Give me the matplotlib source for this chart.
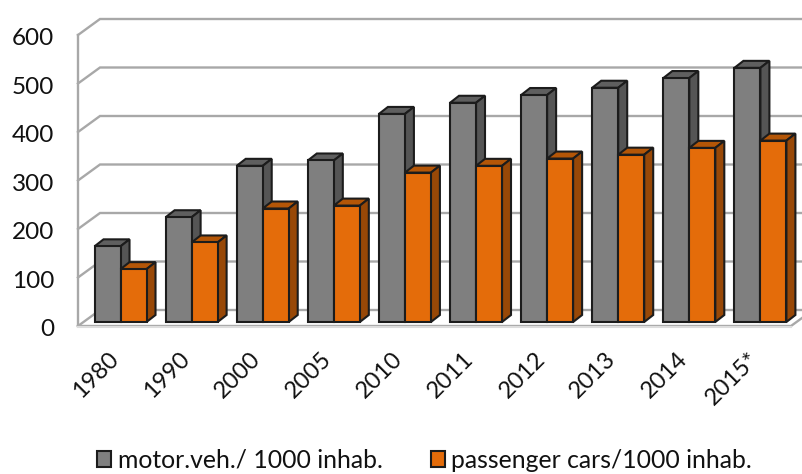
import matplotlib.pyplot as plt
from matplotlib.patches import Patch, Polygon
from matplotlib.transforms import ScaledTranslation

plt.rcParams['font.family'] = ['Lato', 'DejaVu Sans']

# Dados
anos = ['1980', '1990', '2000', '2005', '2010', '2011', '2012', '2013', '2014', '2015*']
motor_veh = [156, 216, 322, 333, 429, 452, 468, 483, 503, 524]
passenger = [109, 164, 234, 240, 308, 322, 337, 345, 359, 374]
valores_y = [0, 100, 200, 300, 400, 500, 600]

W, H = 802, 474
fig = plt.figure(figsize=(W / 100, H / 100), dpi=100)
ax = fig.add_axes([78 / W, (H - 326) / H, (802 - 78) / W, 291 / H])
ax.set_xlim(-0.598, 9.585)
ax.set_ylim(0, 600)
for s in ax.spines.values():
    s.set_visible(False)

# deslocamentos da perspectiva, em unidades de dados
px_x = 1 / 71.1
px_y = 600 / 291
fundo_x, fundo_y = 22 * px_x, 16 * px_y
base_x, base_y = 0, 4 * px_y
prof_x, prof_y = 9 * px_x, 7 * px_y
larg = 26 * px_x
x0 = -0.598

cor_grade = '#a8a8a8'
for v in valores_y:
    ax.plot([x0, x0 + fundo_x, 9.585], [v, v + fundo_y, v + fundo_y],
            color=cor_grade, lw=1.7, clip_on=False, zorder=1, solid_joinstyle='miter')
ax.plot([x0, x0], [0, 600], color=cor_grade, lw=1.7, clip_on=False, zorder=1)
ax.plot([x0, 9.43, 9.585], [0, 0, 8 * px_y], color=cor_grade, lw=1.7, clip_on=False, zorder=1)
ax.plot([x0, 9.43], [-1.2 * px_y, -1.2 * px_y], color='#dddddd', lw=1.5, clip_on=False, zorder=1)


def barra(x_esq, valor, frente, topo, lado, z):
    borda = '#1c1c1c'
    y1 = base_y + valor
    ax.bar(x_esq, valor, larg, bottom=base_y, align='edge', color=frente,
           edgecolor=borda, linewidth=1.5, zorder=z + 1)
    ax.add_patch(Polygon([(x_esq, y1), (x_esq + prof_x, y1 + prof_y),
                          (x_esq + larg + prof_x, y1 + prof_y), (x_esq + larg, y1)],
                         facecolor=topo, edgecolor=borda, lw=1.5, zorder=z, clip_on=False))
    ax.add_patch(Polygon([(x_esq + larg, base_y), (x_esq + larg + prof_x, base_y + prof_y),
                          (x_esq + larg + prof_x, y1 + prof_y), (x_esq + larg, y1)],
                         facecolor=lado, edgecolor=borda, lw=1.5, zorder=z, clip_on=False))


for i in range(len(anos)):
    barra(i - larg, motor_veh[i], '#7f7f7f', '#5f5f5f', '#555555', 2 + i * 4)
    barra(i, passenger[i], '#e46c0a', '#b45607', '#984807', 4 + i * 4)

ax.set_yticks(valores_y)
ax.set_yticklabels(valores_y, fontsize=17.5, color='#111111')
ax.tick_params(axis='y', length=0, pad=17)
desloca_y = ScaledTranslation(0, -2 / 100, fig.dpi_scale_trans)
for t in ax.get_yticklabels():
    t.set_transform(t.get_transform() + desloca_y)

ax.set_xticks(range(len(anos)))
ax.set_xticklabels(anos, fontsize=17, color='#111111', rotation=45, ha='right',
                   rotation_mode='anchor')
ax.tick_params(axis='x', length=0, pad=16)
desloca_x = ScaledTranslation(-13 / 100, 0, fig.dpi_scale_trans)
for t in ax.get_xticklabels():
    t.set_transform(t.get_transform() + desloca_x)

handles = [Patch(facecolor='#7f7f7f', edgecolor='#1c1c1c', lw=1.5, label='motor.veh./ 1000 inhab.'),
           Patch(facecolor='#e46c0a', edgecolor='#1c1c1c', lw=1.5, label='passenger cars/1000 inhab.')]
fig.legend(handles=handles, ncol=2, frameon=False, fontsize=17.8, loc='center left',
           bbox_to_anchor=(97 / W, (H - 460) / H), borderaxespad=0, borderpad=0,
           handlelength=0.58, handleheight=0.6, handletextpad=0.25, columnspacing=1.96,
           labelcolor='#111111')

fig.savefig('out.png', dpi=100)
